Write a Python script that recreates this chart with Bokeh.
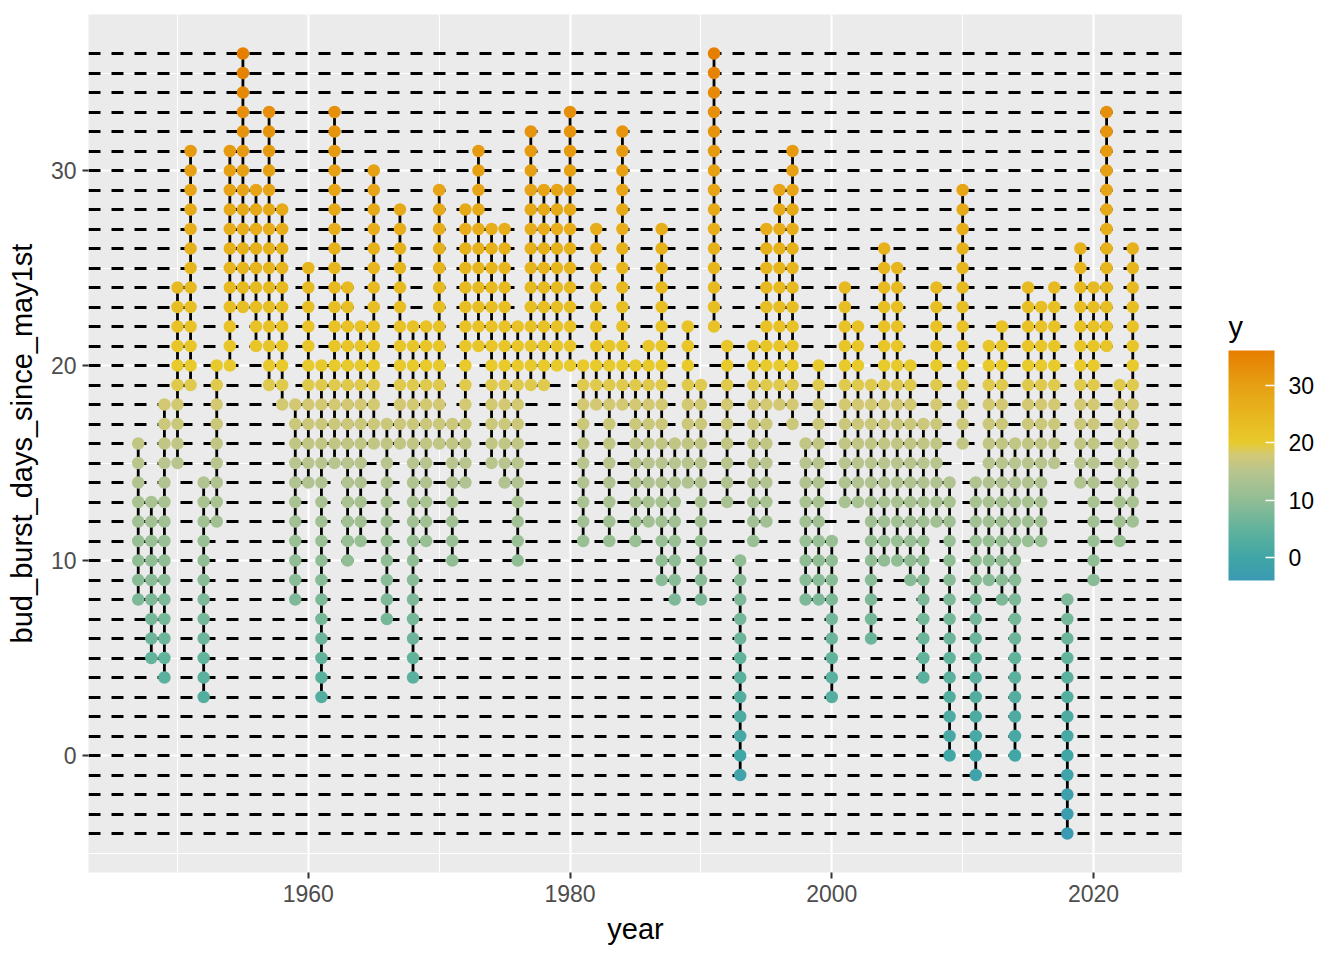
import numpy as np
from bokeh.plotting import figure
from bokeh.layouts import row
from bokeh.models import ColumnDataSource, LinearColorMapper, ColorBar, FixedTicker
from bokeh.core.properties import value
from bokeh.embed import file_html
from bokeh.resources import INLINE

# data: each year shows every whole day from low to high
years = list(range(1947, 2024))
low = [8, 5, 4, 15, 19, 3, 12, 20, 23, 21, 19, 18, 8, 14, 3, 15, 10, 11, 16, 7,
       16, 4, 11, 16, 10, 14, 21, 15, 14, 10, 19, 19, 20, 20, 11, 18, 11, 18, 11, 12,
       9, 8, 14, 8, 22, 13, -1, 11, 12, 18, 17, 8, 8, 3, 13, 13, 6, 10, 10, 9,
       4, 12, 0, 16, -1, 9, 8, 0, 11, 11, 15, -4, 14, 9, 21, 11, 12]
high = [16, 13, 18, 24, 31, 14, 20, 31, 36, 29, 33, 28, 18, 25, 20, 33, 24, 22, 30, 17,
        28, 22, 22, 29, 17, 28, 31, 27, 27, 22, 32, 29, 29, 33, 20, 27, 21, 32, 20, 21,
        27, 16, 22, 19, 36, 21, 10, 21, 27, 29, 31, 16, 20, 11, 24, 22, 19, 26, 25, 20,
        17, 24, 14, 29, 14, 21, 22, 16, 24, 23, 24, 8, 26, 24, 33, 19, 26]
hline_levels = list(range(-4, 37))
x_ticks = [1960, 1980, 2000, 2020]
y_ticks = [0, 10, 20, 30]

px, py = [], []
for yr, lo, hi in zip(years, low, high):
    for d in range(lo, hi + 1):
        px.append(yr)
        py.append(d)

# colour gradient (teal -> sage -> yellow -> orange)
anchors = [(-4, "#3A9AB2"), (0, "#41A6A6"), (5, "#62B39C"), (10, "#91BD95"),
           (15, "#B8C58F"), (18, "#D4C973"), (20, "#E8CA2C"), (25, "#E7B61E"),
           (30, "#E6A014"), (36, "#E67E00")]
av = np.array([a[0] for a in anchors], float)
ac = np.array([[int(c[i:i + 2], 16) for i in (1, 3, 5)] for _, c in anchors], float)
grid = np.linspace(-4, 36, 256)
palette = ["#%02x%02x%02x" % tuple(int(round(np.interp(g, av, ac[:, k]))) for k in range(3))
           for g in grid]
mapper = LinearColorMapper(palette=palette, low=-4, high=36)

FONT = "Liberation Sans"

p = figure(frame_width=1094, frame_height=858, x_range=(1943.2, 2026.8), y_range=(-6, 38),
           output_backend="svg", toolbar_location=None,
           min_border_left=88, min_border_top=14, min_border_bottom=72, min_border_right=0,
           background_fill_color="#EBEBEB", border_fill_color="white")
p.outline_line_color = None

p.xaxis.ticker = FixedTicker(ticks=x_ticks, minor_ticks=[1950, 1970, 1990, 2010])
p.yaxis.ticker = FixedTicker(ticks=y_ticks, minor_ticks=[-5, 5, 15, 25, 35])
for g in (p.xgrid, p.ygrid):
    g.grid_line_color = "white"
    g.grid_line_width = 2.2
    g.minor_grid_line_color = "white"
    g.minor_grid_line_width = 1.1
for ax in (p.xaxis, p.yaxis):
    ax.axis_line_color = None
    ax.minor_tick_line_color = None
    ax.major_tick_line_color = "#333333"
    ax.major_tick_line_width = 2
    ax.major_tick_in = 0
    ax.major_tick_out = 6
    ax.major_label_text_font = FONT
    ax.major_label_text_font_size = "23px"
    ax.major_label_text_color = "#4D4D4D"
    ax.axis_label_text_font = FONT
    ax.axis_label_text_font_size = "29px"
    ax.axis_label_text_font_style = "normal"
    ax.axis_label_text_color = "black"
p.xaxis.axis_label = "year"
p.yaxis.axis_label = "bud_burst_days_since_may1st"
p.xaxis.major_label_standoff = 6
p.yaxis.major_label_standoff = 6
p.xaxis.axis_label_standoff = 8
p.yaxis.axis_label_standoff = 10

# dashed reference line at every day
p.hspan(y=hline_levels, line_color="black", line_width=2.8, line_dash="12 11")

seg = ColumnDataSource(dict(x=years, lo=low, hi=high))
p.segment(x0="x", y0="lo", x1="x", y1="hi", source=seg, line_color="black", line_width=2.8)

pts = ColumnDataSource(dict(x=px, y=py))
p.scatter(x="x", y="y", source=pts, size=12.5, line_color=None,
          fill_color={"field": "y", "transform": mapper})

# legend panel: a blank figure in pixel units holding the colour bar and its title
leg = figure(frame_width=150, frame_height=944, x_range=(0, 150), y_range=(0, 944),
             x_axis_type=None, y_axis_type=None, output_backend="svg",
             toolbar_location=None, min_border=0, outline_line_color=None,
             background_fill_color="white", border_fill_color="white")
leg.grid.visible = False

cb = ColorBar(color_mapper=mapper, width=46, height=230,
              ticker=FixedTicker(ticks=y_ticks), margin=0, padding=0,
              location=(46, 378),
              major_label_text_font=FONT, major_label_text_font_size="23px",
              major_label_text_color="black", label_standoff=14,
              major_tick_line_color="white", major_tick_line_width=1.5,
              major_tick_in=9, major_tick_out=0, bar_line_color=None,
              background_fill_color=None, border_line_color=None)
leg.add_layout(cb)
leg.text(x=[46], y=[632], text=["y"], text_font=value(FONT), text_font_size="29px",
         text_color="black", text_baseline="alphabetic", text_align="left")

layout = row(p, leg, spacing=0)
open("out.html", "w").write(file_html(layout, INLINE))
